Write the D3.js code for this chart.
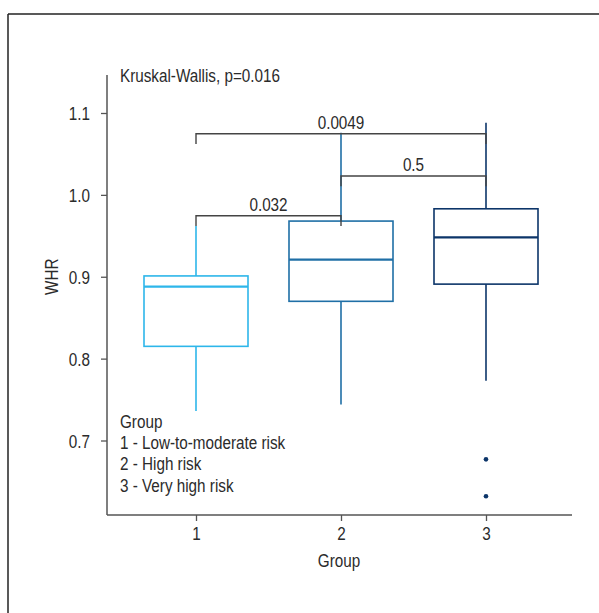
<!DOCTYPE html>
<html>
<head>
<meta charset="utf-8">
<script src="https://cdn.jsdelivr.net/npm/d3@7"></script>
<style>
  html, body { margin: 0; padding: 0; background: #fff; }
  svg text { font-family: "Liberation Sans", Arial, sans-serif; fill: #2b2b2b; }
</style>
</head>
<body>
<svg id="chart" width="599" height="613"></svg>
<script>
// WHR by risk group
const groups      = [1, 2, 3];
const groupColors = ["#2db6ea", "#1f6fa6", "#0c3569"];
const whiskerLow  = [0.736, 0.744, 0.773];
const q1          = [0.815, 0.870, 0.891];
const median      = [0.888, 0.921, 0.948];
const q3          = [0.901, 0.968, 0.983];
const whiskerHigh = [0.962, 1.076, 1.088];
const outlierGroup = [3, 3];
const outlierValue = [0.677, 0.632];

// Pairwise comparisons (group a vs group b)
const pairA      = [1, 1, 2];
const pairB      = [2, 3, 3];
const pairY      = [0.9745, 1.0747, 1.023];
const pairLabel  = ["0.032", "0.0049", "0.5"];
const tipLength  = 0.0125;

const yTicks = [0.7, 0.8, 0.9, 1.0, 1.1];
const testLabel = "Kruskal-Wallis, p=0.016";
const legendTitle = "Group";
const legendItems = ["1 - Low-to-moderate risk", "2 - High risk", "3 - Very high risk"];

const svg = d3.select("#chart");
const fontSize = 18.5;
const narrow = 0.825;   // horizontal squeeze for a condensed face

// squeeze text horizontally around its anchor x
function condense(sel) {
  sel.each(function () {
    const t = d3.select(this);
    const x0 = +(t.attr("x") || 0);
    const prev = t.attr("transform") || "";
    t.attr("transform", `${prev} translate(${x0},0) scale(${narrow},1) translate(${-x0},0)`);
  });
}

// page frame (top and left rules)
svg.append("line").attr("x1", 8).attr("x2", 599).attr("y1", 14).attr("y2", 14)
  .attr("stroke", "#222").attr("stroke-width", 1.5);
svg.append("line").attr("x1", 8).attr("x2", 8).attr("y1", 14).attr("y2", 613)
  .attr("stroke", "#222").attr("stroke-width", 1.5);

const plotLeft = 107, plotRight = 572, plotTop = 75, plotBottom = 515;

const x = d3.scaleLinear().domain([1, 3]).range([196, 486]);
const y = d3.scaleLinear().domain([0.7, 1.1]).range([440.5, 113]);
const halfW = 52;

const axisColor = "#555";

// y axis
const yAxis = svg.append("g").attr("transform", `translate(${plotLeft},0)`)
  .call(d3.axisLeft(y).tickValues(yTicks).tickFormat(d3.format(".1f")).tickSize(6).tickPadding(11));
yAxis.select(".domain").remove();
yAxis.append("line").attr("x1", 0).attr("x2", 0).attr("y1", plotTop).attr("y2", plotBottom)
  .attr("stroke", axisColor).attr("stroke-width", 1.5);
yAxis.selectAll(".tick line").attr("stroke", axisColor).attr("stroke-width", 1.3);
yAxis.selectAll(".tick text").attr("font-size", fontSize).attr("fill", "#2b2b2b").attr("dy", "0.36em");

// x axis
const xAxis = svg.append("g").attr("transform", `translate(0,${plotBottom})`)
  .call(d3.axisBottom(x).tickValues(groups).tickFormat(d3.format("d")).tickSize(6).tickPadding(6));
xAxis.select(".domain").remove();
xAxis.append("line").attr("x1", plotLeft).attr("x2", plotRight).attr("y1", 0).attr("y2", 0)
  .attr("stroke", axisColor).attr("stroke-width", 1.5);
xAxis.selectAll(".tick line").attr("stroke", axisColor).attr("stroke-width", 1.3);
xAxis.selectAll(".tick text").attr("font-size", fontSize).attr("fill", "#2b2b2b");

// axis titles
svg.append("text").attr("x", 339).attr("y", 567).attr("text-anchor", "middle")
  .attr("font-size", fontSize).text("Group");
svg.append("text").attr("transform", `translate(58,${y(0.9)}) rotate(-90)`)
  .attr("text-anchor", "middle").attr("font-size", fontSize).text("WHR");

// boxes
const boxes = groups.map((g, i) => ({
  g, color: groupColors[i], lo: whiskerLow[i], q1: q1[i], med: median[i], q3: q3[i], hi: whiskerHigh[i]
}));
const bg = svg.append("g").selectAll("g").data(boxes).join("g");
bg.append("line").attr("x1", d => x(d.g)).attr("x2", d => x(d.g))
  .attr("y1", d => y(d.q3)).attr("y2", d => y(d.hi))
  .attr("stroke", d => d.color).attr("stroke-width", 1.6);
bg.append("line").attr("x1", d => x(d.g)).attr("x2", d => x(d.g))
  .attr("y1", d => y(d.q1)).attr("y2", d => y(d.lo))
  .attr("stroke", d => d.color).attr("stroke-width", 1.6);
bg.append("rect").attr("x", d => x(d.g) - halfW).attr("width", halfW * 2)
  .attr("y", d => y(d.q3)).attr("height", d => y(d.q1) - y(d.q3))
  .attr("fill", "#fff").attr("stroke", d => d.color).attr("stroke-width", 1.6);
bg.append("line").attr("x1", d => x(d.g) - halfW).attr("x2", d => x(d.g) + halfW)
  .attr("y1", d => y(d.med)).attr("y2", d => y(d.med))
  .attr("stroke", d => d.color).attr("stroke-width", 2.2);

// outliers
svg.append("g").selectAll("circle").data(outlierValue).join("circle")
  .attr("cx", (d, i) => x(outlierGroup[i])).attr("cy", d => y(d)).attr("r", 2.3)
  .attr("fill", (d, i) => groupColors[outlierGroup[i] - 1]);

// comparison brackets
const brackets = pairLabel.map((lab, i) => ({ a: pairA[i], b: pairB[i], yv: pairY[i], lab }));
const br = svg.append("g").selectAll("g").data(brackets).join("g");
br.append("path")
  .attr("d", d => `M${x(d.a)},${y(d.yv - tipLength)}V${y(d.yv)}H${x(d.b)}V${y(d.yv - tipLength)}`)
  .attr("fill", "none").attr("stroke", "#444").attr("stroke-width", 1.4);
br.append("text").attr("x", d => (x(d.a) + x(d.b)) / 2).attr("y", d => y(d.yv) - 5)
  .attr("text-anchor", "middle").attr("font-size", fontSize).text(d => d.lab);

// test result
svg.append("text").attr("x", 120).attr("y", 82).attr("font-size", fontSize).text(testLabel);

// legend
const legend = svg.append("g").attr("transform", "translate(120,0)");
legend.append("text").attr("x", 0).attr("y", 427.7).attr("font-size", fontSize).text(legendTitle);
legend.selectAll("text.item").data(legendItems).join("text").attr("class", "item")
  .attr("x", 0).attr("y", (d, i) => 449 + i * 21.3).attr("font-size", fontSize).text(d => d);

condense(svg.selectAll("text"));
</script>
</body>
</html>
